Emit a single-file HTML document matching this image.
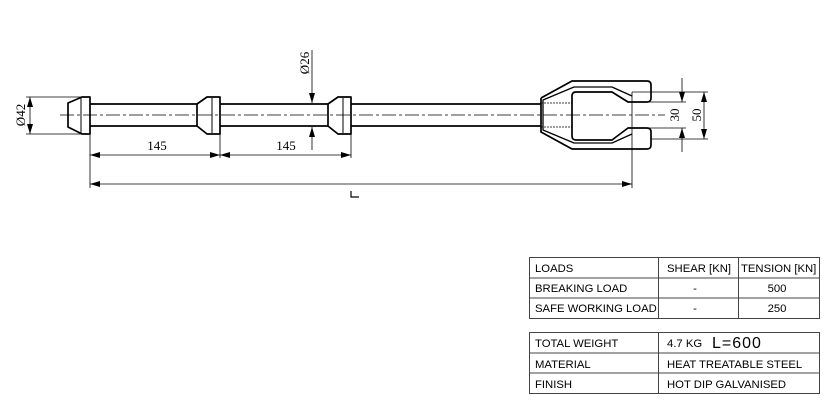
<!DOCTYPE html>
<html><head><style>
body{margin:0;background:#fff;width:825px;height:403px;overflow:hidden;position:relative;font-family:"Liberation Sans",Arial,sans-serif;}
svg{position:absolute;left:0;top:0}
</style></head><body>
<svg width="825" height="403" viewBox="0 0 825 403" xmlns="http://www.w3.org/2000/svg">
<defs>
<marker id="a" viewBox="0 0 10 6" refX="10" refY="3" markerWidth="10" markerHeight="6" orient="auto-start-reverse" markerUnits="userSpaceOnUse"><path d="M0,0 L10,3 L0,6 z" fill="#000"/></marker>
</defs>
<g fill="none" stroke="#000" stroke-width="1.7" stroke-linejoin="round">
<path d="M90,97 H82 L68,103 V127 L82,134 H90 Z"/>
<line x1="81" y1="98" x2="81" y2="133" stroke-width="1"/>
<line x1="90" y1="104" x2="197" y2="104"/><line x1="90" y1="126" x2="197" y2="126"/>
<line x1="220" y1="104" x2="328" y2="104"/><line x1="220" y1="126" x2="328" y2="126"/>
<line x1="351" y1="104" x2="541" y2="104"/><line x1="351" y1="126" x2="541" y2="126"/>
<path d="M197,104 L207,97 H220 V134 H207 L197,126 Z"/>
<line x1="212" y1="98" x2="212" y2="133" stroke-width="1"/>
<path d="M328,104 L338,97 H351 V134 H338 L328,126 Z"/>
<line x1="343" y1="98" x2="343" y2="133" stroke-width="1"/>
<!-- fork -->
<path d="M541,98 L572,81 H647 Q651,81 651,85 V98 Q651,102 647,102 H632"/>
<path d="M541,98 V132 L572,149 H647 Q651,149 651,145 V132 Q651,128 647,128 H632"/>
<path d="M632,96 L612,87 H574 L543,100 V130 L574,143 H612 L632,134" stroke-width="1.3"/>
<path d="M632,102 H628 L612,92 H576 Q572,92 572,96 V136 Q572,140 576,140 H612 L628,128 H632"/>
</g>
<g fill="none" stroke="#000" stroke-width="0.8">
<line x1="541" y1="103" x2="572" y2="103" stroke-dasharray="2,1"/>
<line x1="541" y1="127" x2="572" y2="127" stroke-dasharray="2,1"/>
<line x1="60" y1="115" x2="665" y2="115" stroke-dasharray="14,3,3,3"/>
<line x1="26" y1="97" x2="90" y2="97"/><line x1="26" y1="134" x2="90" y2="134"/>
<line x1="30" y1="97" x2="30" y2="134" marker-start="url(#a)" marker-end="url(#a)"/>
<line x1="312" y1="50" x2="312" y2="103" marker-end="url(#a)"/>
<line x1="312" y1="150" x2="312" y2="127" marker-end="url(#a)"/>
<line x1="90" y1="134" x2="90" y2="188"/>
<line x1="220" y1="134" x2="220" y2="158"/>
<line x1="351" y1="134" x2="351" y2="158"/>
<line x1="632" y1="92" x2="632" y2="188"/>
<line x1="90" y1="155" x2="220" y2="155" marker-start="url(#a)" marker-end="url(#a)"/>
<line x1="220" y1="155" x2="351" y2="155" marker-start="url(#a)" marker-end="url(#a)"/>
<line x1="90" y1="184" x2="632" y2="184" marker-start="url(#a)" marker-end="url(#a)"/>
<line x1="632" y1="92" x2="708" y2="92"/>
<line x1="632" y1="102" x2="686" y2="102"/>
<line x1="632" y1="128" x2="686" y2="128"/>
<line x1="651" y1="139" x2="708" y2="139"/>
<line x1="682" y1="78" x2="682" y2="102" marker-end="url(#a)"/>
<line x1="682" y1="152" x2="682" y2="128" marker-end="url(#a)"/>
<line x1="704" y1="92" x2="704" y2="139" marker-start="url(#a)" marker-end="url(#a)"/>
</g>
<g font-family="Liberation Serif, serif" font-size="13" fill="#000">
<text x="157" y="150" text-anchor="middle">145</text>
<text x="286" y="150" text-anchor="middle">145</text>
<text transform="translate(25,115) rotate(-90)" text-anchor="middle">Ø42</text>
<text transform="translate(309,63) rotate(-90)" text-anchor="middle">Ø26</text>
<text transform="translate(679,115) rotate(-90)" text-anchor="middle">30</text>
<text transform="translate(701,115) rotate(-90)" text-anchor="middle">50</text>
</g>
<path d="M351,191 V197 H359" fill="none" stroke="#000" stroke-width="1.2"/>
<g fill="none" stroke="#444" stroke-width="1">
<rect x="529.5" y="257.5" width="290" height="61"/>
<line x1="529" y1="278" x2="819" y2="278"/><line x1="529" y1="298" x2="819" y2="298"/>
<line x1="658.5" y1="257" x2="658.5" y2="318"/><line x1="738.5" y1="257" x2="738.5" y2="318"/>
<rect x="529.5" y="332.5" width="290" height="61"/>
<line x1="529" y1="353" x2="819" y2="353"/><line x1="529" y1="373" x2="819" y2="373"/>
<line x1="658.5" y1="332" x2="658.5" y2="393"/>
</g>
<g font-size="11.3" fill="#000">
<text x="535" y="272">LOADS</text>
<text x="667" y="272">SHEAR [KN]</text>
<text x="741" y="272">TENSION [KN]</text>
<text x="535" y="292">BREAKING LOAD</text>
<text x="695" y="292" text-anchor="middle">-</text>
<text x="777" y="292" text-anchor="middle">500</text>
<text x="535" y="312">SAFE WORKING LOAD</text>
<text x="695" y="312" text-anchor="middle">-</text>
<text x="777" y="312" text-anchor="middle">250</text>
<text x="535" y="347">TOTAL WEIGHT</text>
<text x="667" y="347">4.7 KG</text>
<text x="712" y="348" font-size="16" letter-spacing="1">L=600</text>
<text x="535" y="368">MATERIAL</text>
<text x="667" y="368">HEAT TREATABLE STEEL</text>
<text x="535" y="388">FINISH</text>
<text x="667" y="388">HOT DIP GALVANISED</text>
</g>
</svg>
</body></html>
